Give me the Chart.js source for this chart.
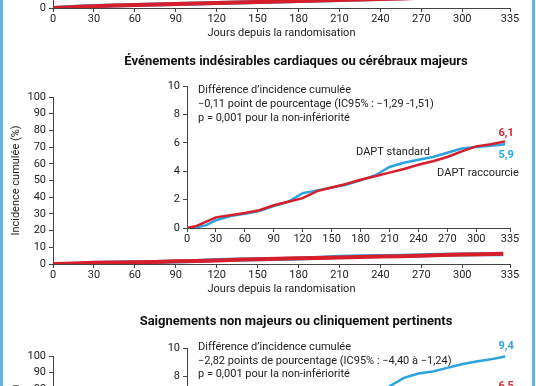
<!DOCTYPE html>
<html>
<head>
<meta charset="utf-8">
<script src="https://cdn.jsdelivr.net/npm/chart.js@4.4.1/dist/chart.umd.min.js"></script>
<style>
html, body { margin: 0; padding: 0; background: #fff; }
#page { position: relative; width: 536px; height: 386px; overflow: hidden; background: #fff; }
#page canvas { position: absolute; }
.edge { position: absolute; top: 0; bottom: 0; width: 3px; background: #6aafe3; z-index: 5; }
</style>
</head>
<body>
<div id="page">
  <canvas id="topMain"></canvas>
  <canvas id="maceMain"></canvas>
  <canvas id="maceInset"></canvas>
  <canvas id="mcbMain"></canvas>
  <canvas id="mcbInset"></canvas>
  <div class="edge" style="left:0"></div>
  <div class="edge" style="left:532px"></div>
</div>
<script>
// days since randomisation, sampled along the curves
var days = [0, 10, 20, 30, 45, 60, 75, 90, 105, 120, 135, 150, 165, 180, 195, 210, 225, 240, 255, 270, 285, 300, 315, 330];

// net adverse clinical events (top panel, mostly cut off)
var naceShort = [0, 0.35, 0.75, 1.1, 1.45, 1.75, 2.05, 2.35, 2.65, 2.95, 3.25, 3.55, 3.85, 4.15, 4.45, 4.75, 5.05, 5.4, 5.75, 6.1, 6.45, 6.8, 7.15, 7.5];
var naceStd   = [0, 0.45, 0.85, 1.2, 1.55, 1.85, 2.15, 2.45, 2.75, 3.05, 3.35, 3.65, 3.95, 4.25, 4.55, 4.85, 5.15, 5.5, 5.85, 6.2, 6.55, 6.9, 7.3, 7.7];

// major adverse cardiac or cerebral events
var maceShort = [0, 0.15, 0.45, 0.75, 0.9, 1.05, 1.25, 1.6, 1.85, 2.1, 2.6, 2.85, 3.1, 3.4, 3.65, 3.9, 4.15, 4.45, 4.7, 5.0, 5.4, 5.75, 5.9, 6.1];
var maceStd   = [0, 0.05, 0.2, 0.55, 0.85, 1.0, 1.2, 1.55, 1.85, 2.45, 2.65, 2.85, 3.05, 3.35, 3.7, 4.3, 4.6, 4.8, 5.0, 5.3, 5.6, 5.7, 5.8, 5.9];

// major or clinically relevant non-major bleeding
var mcbShort = [0, 0.5, 1.0, 1.4, 1.8, 2.2, 2.5, 2.8, 3.1, 3.4, 3.7, 4.0, 4.3, 4.6, 4.8, 5.0, 5.3, 5.5, 5.7, 5.9, 6.1, 6.3, 6.4, 6.5];
var mcbStd    = [0, 0.8, 1.6, 2.3, 2.9, 3.5, 4.0, 4.5, 4.9, 5.3, 5.7, 6.0, 6.3, 6.55, 6.8, 7.3, 7.9, 8.2, 8.35, 8.6, 8.85, 9.05, 9.2, 9.4];

var dayTicks = [0, 30, 60, 90, 120, 150, 180, 210, 240, 270, 300, 335];
var pctTicks = [0, 10, 20, 30, 40, 50, 60, 70, 80, 90, 100];
var insetTicks = [0, 2, 4, 6, 8, 10];

var RED = '#d71f2b';
var BLUE = '#2ba3de';
var AXIS = '#444444';
var TEXT = '#222222';
var FONT = 'Roboto';

// draws free text; x/y are px from the chart area's top-left, or data values when data:true
var notesPlugin = {
    id: 'notes',
    afterDraw: function(chart, args, opts) {
        var ctx = chart.ctx, a = chart.chartArea;
        (opts.items || []).forEach(function(it) {
            var x, y;
            if (it.data) {
                x = chart.scales.x.getPixelForValue(it.x) + (it.ox || 0);
                y = chart.scales.y.getPixelForValue(it.y) + (it.oy || 0);
            } else {
                x = a.left + it.x;
                y = a.top + it.y;
            }
            ctx.save();
            ctx.font = (it.weight || 'normal') + ' ' + (it.size || 11) + 'px ' + FONT;
            ctx.fillStyle = it.color || TEXT;
            ctx.textAlign = it.align || 'left';
            ctx.textBaseline = 'middle';
            ctx.fillText(it.text, x, y);
            ctx.restore();
        });
    }
};

function place(id, area, pad) {
    var c = document.getElementById(id);
    var w = area.right - area.left + pad.left + pad.right;
    var h = area.bottom - area.top + pad.top + pad.bottom;
    c.width = w;
    c.height = h;
    c.style.left = (area.left - pad.left) + 'px';
    c.style.top = (area.top - pad.top) + 'px';
    c.style.width = w + 'px';
    c.style.height = h + 'px';
    return c.getContext('2d');
}

function xy(xs, ys) {
    return xs.map(function(v, i) { return {x: v, y: ys[i]}; });
}

function kmChart(id, o) {
    var ctx = place(id, o.area, o.pad);
    return new Chart(ctx, {
        type: 'line',
        data: {
            datasets: [
                { label: 'DAPT raccourcie', data: xy(days, o.red), borderColor: RED, borderWidth: o.lw, pointRadius: 0, fill: false, tension: 0 },
                { label: 'DAPT standard', data: xy(days, o.blue), borderColor: BLUE, borderWidth: o.lw, pointRadius: 0, fill: false, tension: 0 }
            ]
        },
        options: {
            responsive: false,
            animation: false,
            layout: { padding: { top: o.pad.top, right: o.pad.right, left: 0, bottom: 0 } },
            plugins: {
                legend: { display: false },
                tooltip: { enabled: false },
                notes: { items: o.notes || [] }
            },
            scales: {
                x: {
                    type: 'linear', min: 0, max: 335,
                    afterBuildTicks: function(s) { s.ticks = dayTicks.map(function(v) { return {value: v}; }); },
                    afterFit: function(s) { s.height = o.pad.bottom; },
                    grid: { drawOnChartArea: false, drawTicks: true, tickLength: 4, color: AXIS },
                    border: { color: AXIS, width: 1 },
                    ticks: { autoSkip: false, maxRotation: 0, padding: 1, color: TEXT, font: { family: FONT, size: 11 } },
                    title: { display: !!o.xTitle, text: o.xTitle || '', color: TEXT, padding: { top: 0, bottom: 0 }, font: { family: FONT, size: 11 } }
                },
                y: {
                    min: 0, max: o.yTicks[o.yTicks.length - 1],
                    afterBuildTicks: function(s) { s.ticks = o.yTicks.map(function(v) { return {value: v}; }); },
                    afterFit: function(s) { s.width = o.pad.left; },
                    grid: { drawOnChartArea: false, drawTicks: true, tickLength: 4, color: AXIS },
                    border: { color: AXIS, width: 1 },
                    ticks: { padding: 3, color: TEXT, font: { family: FONT, size: 11 } },
                    title: { display: !!o.yTitle, text: o.yTitle || '', color: TEXT, padding: { top: 10, bottom: 0 }, font: { family: FONT, size: 11 } }
                }
            }
        },
        plugins: [notesPlugin]
    });
}

var mainPad = { left: 53, right: 26, top: 48, bottom: 32 };
var insetPad = { left: 30, right: 26, top: 10, bottom: 16 };

kmChart('topMain', {
    area: { left: 53, right: 510, top: -159, bottom: 8 },
    pad: mainPad, lw: 4, red: naceShort, blue: naceStd, yTicks: pctTicks,
    xTitle: 'Jours depuis la randomisation', yTitle: 'Incidence cumulée (%)'
});

kmChart('maceMain', {
    area: { left: 53, right: 510, top: 97, bottom: 264 },
    pad: mainPad, lw: 4, red: maceShort, blue: maceStd, yTicks: pctTicks,
    xTitle: 'Jours depuis la randomisation', yTitle: 'Incidence cumulée (%)',
    notes: [
        { text: 'Événements indésirables cardiaques ou cérébraux majeurs', x: 243, y: -35, align: 'center', weight: 'bold', size: 13, color: '#111' }
    ]
});

kmChart('maceInset', {
    area: { left: 187, right: 510, top: 86, bottom: 228 },
    pad: insetPad, lw: 2.5, red: maceShort, blue: maceStd, yTicks: insetTicks,
    notes: [
        { text: 'Différence d\u2019incidence cumulée', x: 11, y: 4 },
        { text: '\u22120,11 point de pourcentage (IC95% : \u22121,29 -1,51)', x: 11, y: 18 },
        { text: 'p = 0,001 pour la non-infériorité', x: 11, y: 32 },
        { text: 'DAPT standard', x: 206, y: 66, align: 'center' },
        { text: 'DAPT raccourcie', x: 291, y: 87, align: 'center' },
        { text: '6,1', data: true, x: 330, y: 6.1, oy: -8, ox: 1, align: 'center', weight: 'bold', color: RED },
        { text: '5,9', data: true, x: 330, y: 5.9, oy: 11, ox: 1, align: 'center', weight: 'bold', color: BLUE }
    ]
});

kmChart('mcbMain', {
    area: { left: 53, right: 510, top: 356, bottom: 523 },
    pad: mainPad, lw: 4, red: mcbShort, blue: mcbStd, yTicks: pctTicks,
    xTitle: 'Jours depuis la randomisation', yTitle: 'Incidence cumulée (%)',
    notes: [
        { text: 'Saignements non majeurs ou cliniquement pertinents', x: 243, y: -34, align: 'center', weight: 'bold', size: 13, color: '#111' }
    ]
});

kmChart('mcbInset', {
    area: { left: 187, right: 510, top: 348, bottom: 490 },
    pad: insetPad, lw: 2.5, red: mcbShort, blue: mcbStd, yTicks: insetTicks,
    notes: [
        { text: 'Différence d\u2019incidence cumulée', x: 11, y: -1 },
        { text: '\u22122,82 points de pourcentage (IC95% : \u22124,40 à \u22121,24)', x: 11, y: 13 },
        { text: 'p = 0,001 pour la non-infériorité', x: 11, y: 26 },
        { text: '9,4', data: true, x: 330, y: 9.4, oy: -10, ox: 1, align: 'center', weight: 'bold', color: BLUE },
        { text: '6,5', data: true, x: 330, y: 6.5, oy: -11, ox: 1, align: 'center', weight: 'bold', color: RED }
    ]
});
</script>
</body>
</html>
